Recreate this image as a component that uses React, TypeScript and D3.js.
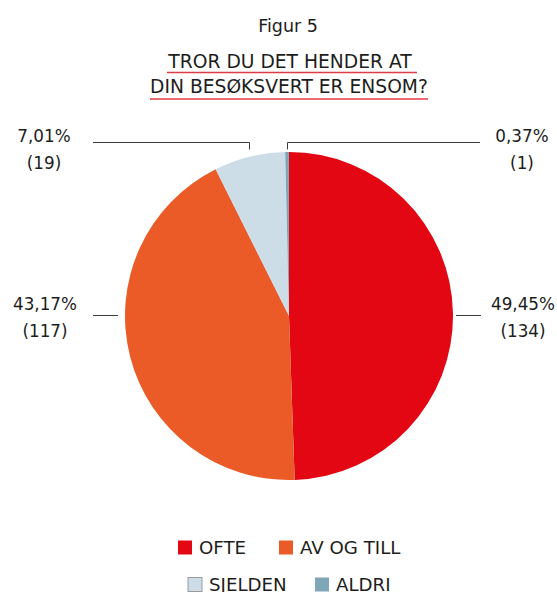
import * as d3 from "d3";

const categories = ["OFTE", "AV OG TILL", "SJELDEN", "ALDRI"];
const counts = [134, 117, 19, 1];
const percentLabels = ["49,45%", "43,17%", "7,01%", "0,37%"];
const colors = ["#e30613", "#ea5b27", "#cddde7", "#7fa6b7"];

const W = 557;
const H = 592;
const font = "'DejaVu Sans', 'Open Sans', sans-serif";
const textColor = "#1d1d1b";

export default function App() {
  const cx = 289;
  const cy = 316;
  const r = 164;

  const pie = d3
    .pie<number>()
    .sort(null)
    .value((d) => d);
  const arcs = pie(counts);
  const arc = d3.arc<d3.PieArcDatum<number>>().innerRadius(0).outerRadius(r);

  // where each label sits: big slices to the side, small ones above
  const labelFor = (i: number) => {
    const a = arcs[i];
    const mid = (a.startAngle + a.endAngle) / 2;
    const mx = Math.round(cx + r * Math.sin(mid)) + 0.5;
    if (i < 2) {
      const right = i === 0;
      const x1 = right ? cx + r + 3 : cx - r - 7;
      const x2 = right ? cx + r + 28 : cx - r - 32;
      const tx = right ? 523 : 45;
      return {
        path: `M${x1},${cy - 0.5}H${x2}`,
        tx,
        ty: cy - 6,
      };
    }
    const ly = cy - r - 9.5;
    const right = mx > cx - 3;
    const far = right ? 480 : 93;
    return {
      path: `M${far},${ly}H${mx}V${ly + 7}`,
      tx: right ? 522 : 44,
      ty: cy - r - 10,
    };
  };

  const legendRows = [
    [
      { i: 0, x: 178 },
      { i: 1, x: 279 },
    ],
    [
      { i: 2, x: 188 },
      { i: 3, x: 315 },
    ],
  ];
  const legendY = [554, 591];

  return (
    <svg
      width={W}
      height={H}
      style={{ position: "absolute", left: 0, top: 0, background: "#fff" }}
      fontFamily={font}
    >
      <text x={288} y={32} textAnchor="middle" fontSize={17.5} fill={textColor}>
        Figur 5
      </text>
      <text x={290} y={68} textAnchor="middle" fontSize={18.7} fill={textColor}>
        TROR DU DET HENDER AT
      </text>
      <line x1={167} x2={417} y1={72.5} y2={72.5} stroke="#e43a45" strokeWidth={1.5} />
      <text x={289} y={93} textAnchor="middle" fontSize={18.7} fill={textColor}>
        DIN BESØKSVERT ER ENSOM?
      </text>
      <line x1={150} x2={428} y1={99} y2={99} stroke="#e43a45" strokeWidth={1.5} />

      <g transform={`translate(${cx},${cy})`}>
        {arcs.map((a, i) => (
          <path key={categories[i]} d={arc(a) ?? ""} fill={colors[i]} />
        ))}
      </g>

      {arcs.map((a, i) => {
        const l = labelFor(i);
        return (
          <g key={"lab" + i}>
            <path d={l.path} fill="none" stroke="#3c3c3c" strokeWidth={1} />
            <text x={l.tx} y={l.ty} textAnchor="middle" fontSize={16.8} fill={textColor}>
              {percentLabels[i]}
            </text>
            <text x={l.tx} y={l.ty + 27} textAnchor="middle" fontSize={16.8} fill={textColor}>
              ({counts[i]})
            </text>
          </g>
        );
      })}

      {legendRows.map((row, ri) =>
        row.map(({ i, x }) => (
          <g key={categories[i]}>
            <rect
              x={x}
              y={legendY[ri] - 13.5}
              width={14}
              height={14}
              fill={colors[i]}
              stroke={i === 2 ? "#9a9a9a" : "none"}
              strokeWidth={1}
            />
            <text x={x + 21} y={legendY[ri]} fontSize={18.2} fill={textColor}>
              {categories[i]}
            </text>
          </g>
        ))
      )}
    </svg>
  );
}
